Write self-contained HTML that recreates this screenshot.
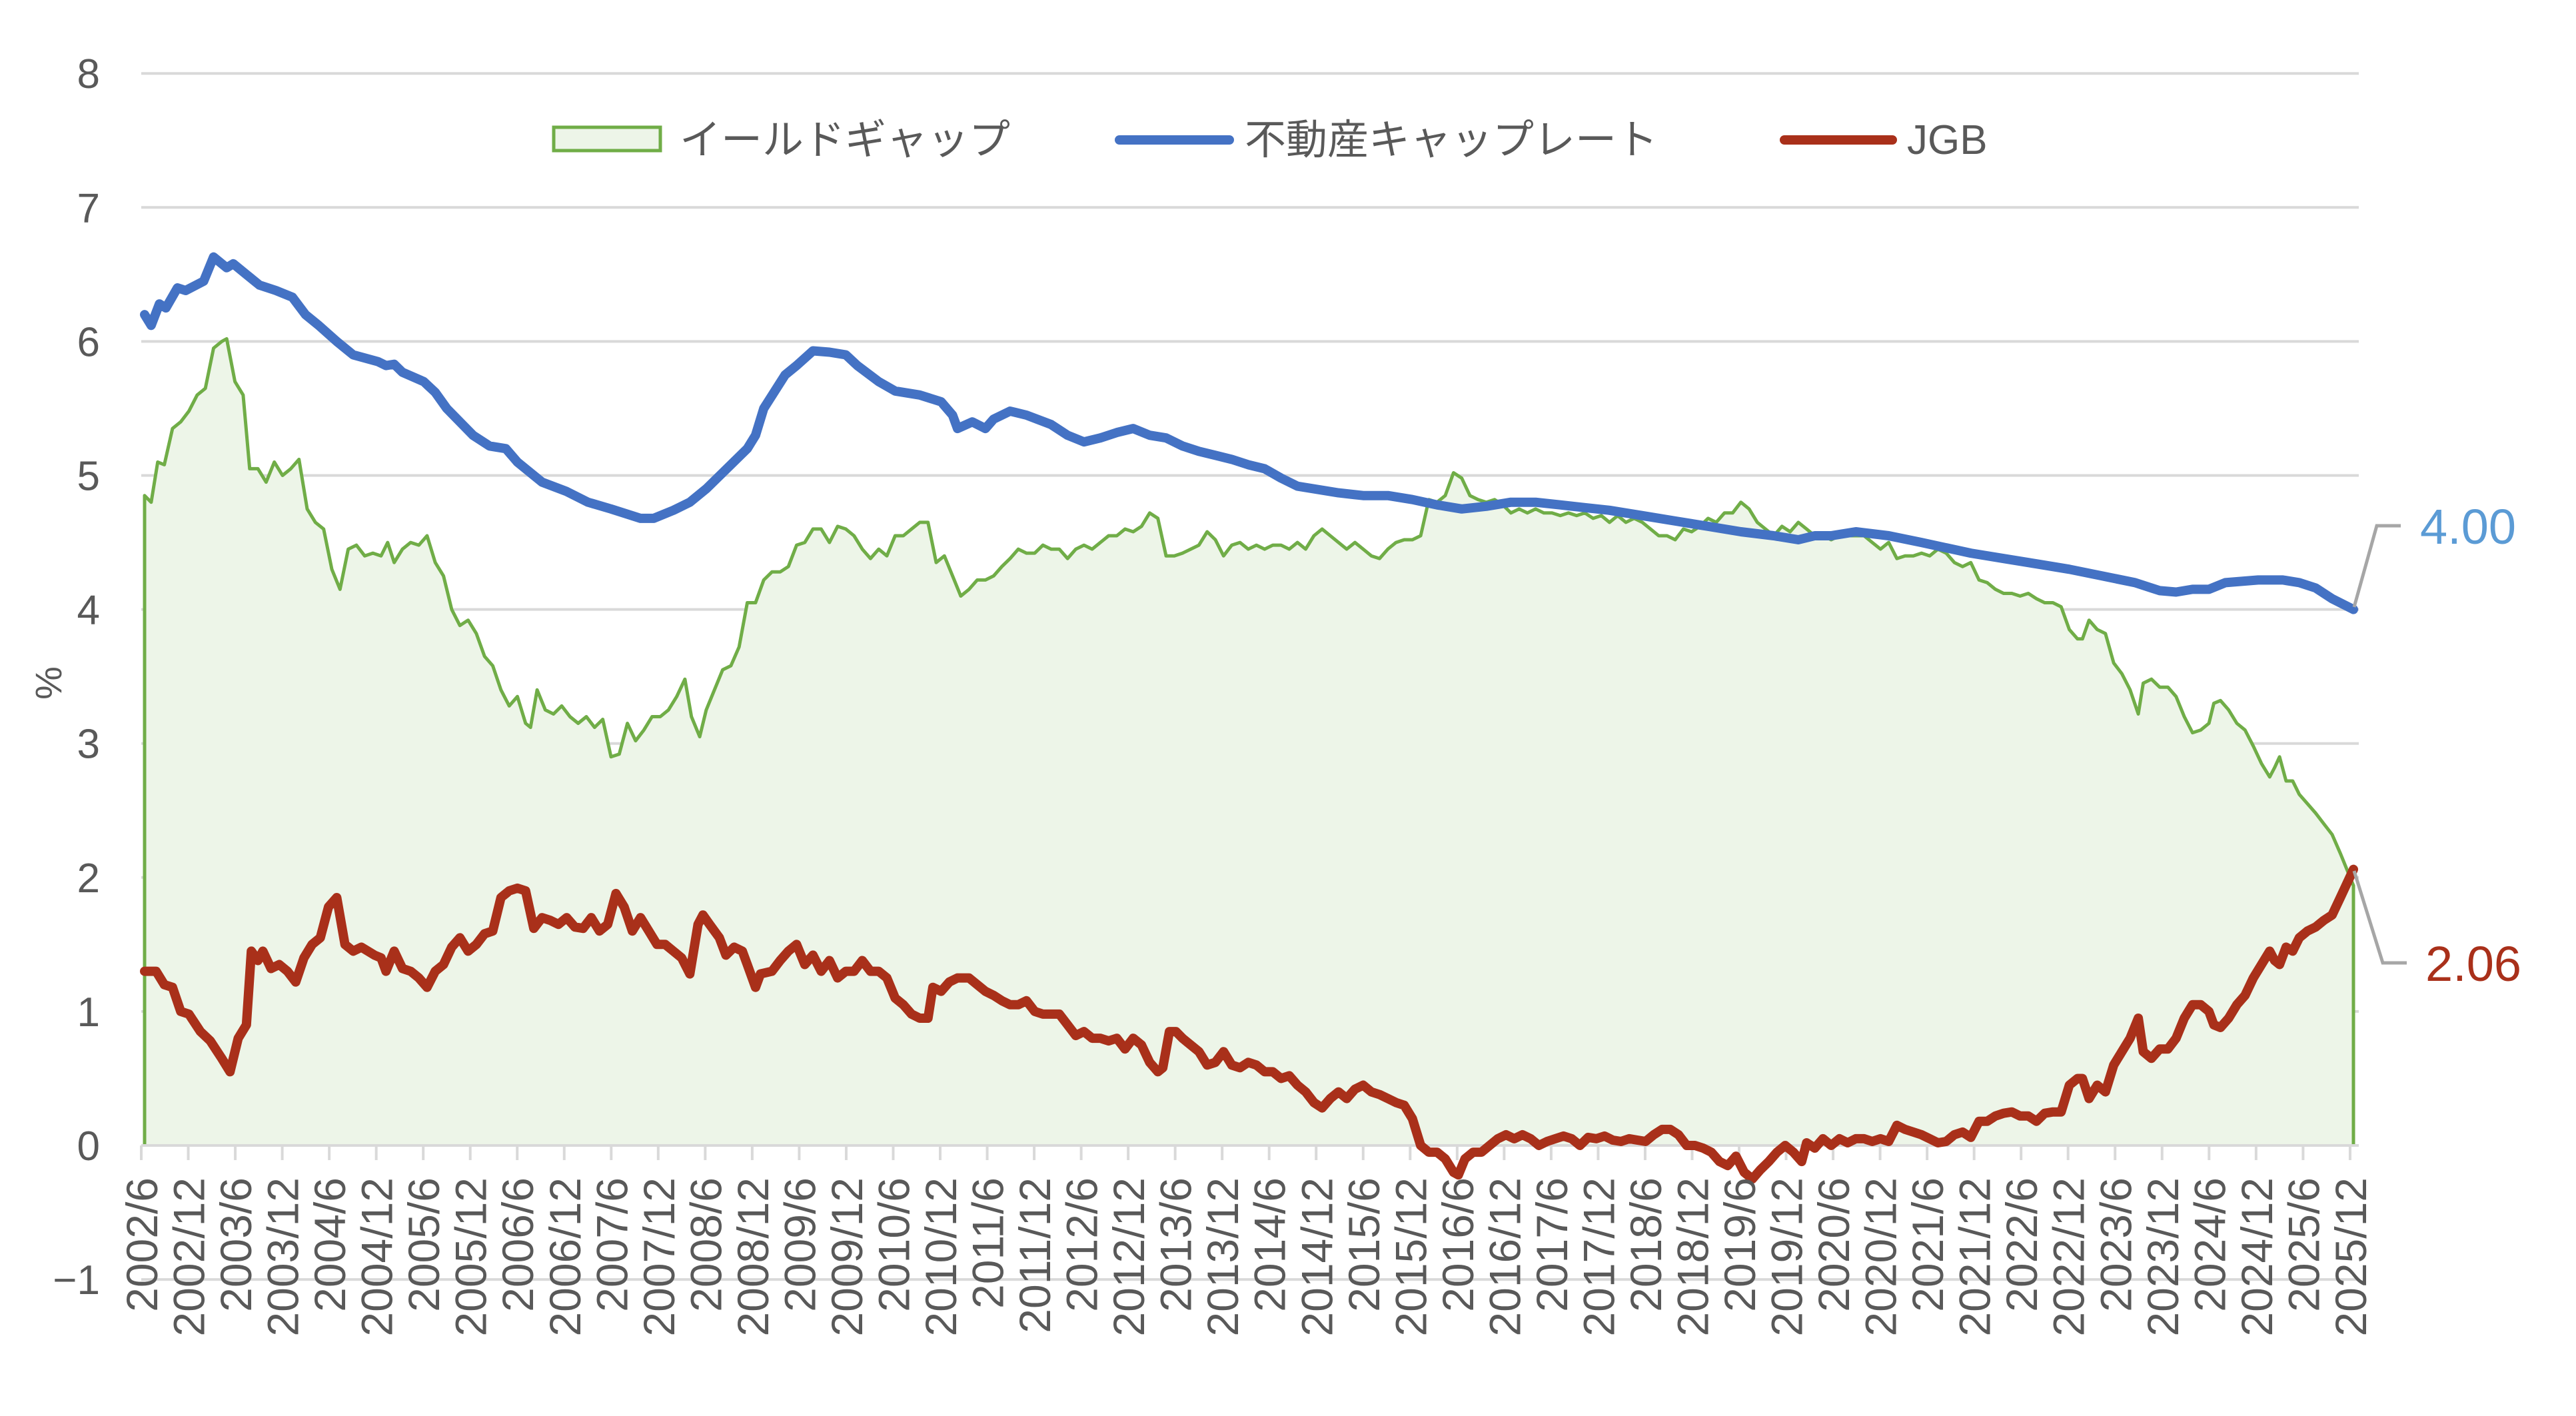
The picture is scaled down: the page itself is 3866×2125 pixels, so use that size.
<!DOCTYPE html>
<html><head><meta charset="utf-8"><style>
html,body{margin:0;padding:0;background:#fff;}
svg{display:block;font-family:"Liberation Sans","Noto Sans CJK JP",sans-serif;}
</style></head><body>
<svg id="c" width="3866" height="2125" viewBox="0 0 3866 2125" xmlns="http://www.w3.org/2000/svg">
<g id="grid" stroke="#D9D9D9" stroke-width="4"></g>
<path id="gap" fill="#EDF5E8" stroke="#70AD47" stroke-width="5" stroke-linejoin="round"/>
<g id="axis" stroke="#D9D9D9" stroke-width="4"></g>
<path id="cap" fill="none" stroke="#4472C4" stroke-width="14" stroke-linejoin="round" stroke-linecap="round"/>
<path id="jgb" fill="none" stroke="#A9301A" stroke-width="14" stroke-linejoin="round" stroke-linecap="round"/>
<g id="ylab" fill="#595959" font-size="62" text-anchor="end"></g>
<g id="xlab" fill="#595959" font-size="66" text-anchor="end"></g>
<text x="0" y="0" transform="translate(92,1025) rotate(-90)" font-size="56" fill="#595959" text-anchor="middle">%</text>
<rect x="831" y="191" width="160" height="35" fill="#EDF5E8" stroke="#70AD47" stroke-width="5"/>
<text x="1020" y="231" font-size="62" fill="#595959">イールドギャップ</text>
<line x1="1680" y1="210" x2="1845" y2="210" stroke="#4472C4" stroke-width="14" stroke-linecap="round"/>
<text x="1868" y="231" font-size="62" fill="#595959">不動産キャップレート</text>
<line x1="2678" y1="210" x2="2840" y2="210" stroke="#A9301A" stroke-width="14" stroke-linecap="round"/>
<text x="2862" y="231" font-size="62" fill="#595959">JGB</text>
<polyline points="3533,911 3567,789 3603,789" fill="none" stroke="#A6A6A6" stroke-width="5"/>
<polyline points="3533,1307 3576,1445 3612,1445" fill="none" stroke="#A6A6A6" stroke-width="5"/>
<text x="3632" y="816" font-size="74" fill="#5B9BD5">4.00</text>
<text x="3640" y="1472" font-size="74" fill="#A9301A">2.06</text>
</svg>
<script>
var NS="http://www.w3.org/2000/svg";
function X(xs){return 217+(xs-88)/1345*(3532-217);}
function Y(v){return 1719-201.1*v;}
function el(t,a,p,txt){var e=document.createElementNS(NS,t);for(var k in a)e.setAttribute(k,a[k]);if(txt!=null)e.textContent=txt;document.getElementById(p).appendChild(e);}
for(var v=-1;v<=8;v++){ if(v!==0) el("line",{x1:212,x2:3540,y1:Y(v),y2:Y(v)},"grid"); el("text",{x:150,y:Y(v)+22},"ylab",v<0?"\u22121":String(v));}
el("line",{x1:212,x2:3540,y1:1719,y2:1719},"axis");
for(var i=0;i<48;i++){var x=212+i*70.53;el("line",{x1:x,x2:x,y1:1719,y2:1741},"axis");
 var yr=2002+Math.floor((i+0)/2), lab=(i%2==0)?(yr+"/6"):(yr+"/12");
 el("text",{x:0,y:0,transform:"translate("+(x+24)+",1767) rotate(-90)"},"xlab",lab);}
function parse(s){return s.trim().split(/\s*,\s*/).map(function(p){var a=p.split(":");return [X(+a[0]),Y(+a[1])];});}
var cap=parse("88:6.2,92:6.12,97:6.28,101:6.25,108:6.4,113:6.38,124:6.45,130:6.63,138:6.55,142:6.58,150:6.5,158:6.42,168:6.38,172:6.36,178:6.33,186:6.2,194:6.12,205:6.0,215:5.9,230:5.85,235:5.82,240:5.83,245:5.77,258:5.7,265:5.62,272:5.5,288:5.3,298:5.22,308:5.2,315:5.1,330:4.95,345:4.88,358:4.8,372:4.75,390:4.68,398:4.68,410:4.74,420:4.8,430:4.9,445:5.08,455:5.2,460:5.3,465:5.5,478:5.75,485:5.82,495:5.93,505:5.92,515:5.9,522:5.82,535:5.7,545:5.63,560:5.6,573:5.55,580:5.45,583:5.35,592:5.4,600:5.35,605:5.42,615:5.48,625:5.45,640:5.38,650:5.3,660:5.25,670:5.28,680:5.32,690:5.35,700:5.3,710:5.28,720:5.22,730:5.18,740:5.15,750:5.12,760:5.08,770:5.05,780:4.98,790:4.92,800:4.9,815:4.87,830:4.85,845:4.85,860:4.82,875:4.78,890:4.75,905:4.77,920:4.8,935:4.8,950:4.78,965:4.76,980:4.74,1000:4.7,1020:4.66,1040:4.62,1060:4.58,1080:4.55,1095:4.52,1105:4.55,1115:4.55,1130:4.58,1150:4.55,1170:4.5,1185:4.46,1200:4.42,1220:4.38,1240:4.34,1260:4.3,1280:4.25,1300:4.2,1315:4.14,1325:4.13,1335:4.15,1345:4.15,1355:4.2,1365:4.21,1375:4.22,1390:4.22,1400:4.2,1410:4.16,1420:4.08,1433:4.0");
var jgb=parse("88:1.3,95:1.3,100:1.2,105:1.18,110:1.0,115:0.98,122:0.85,128:0.78,135:0.65,140:0.55,145:0.8,150:0.9,153:1.45,157:1.38,160:1.45,165:1.32,170:1.35,175:1.3,180:1.22,185:1.4,190:1.5,195:1.55,200:1.78,205:1.85,210:1.5,215:1.45,220:1.48,228:1.42,232:1.4,235:1.3,240:1.45,245:1.32,250:1.3,255:1.25,260:1.18,265:1.3,270:1.35,275:1.48,280:1.55,285:1.45,290:1.5,295:1.58,300:1.6,305:1.85,310:1.9,315:1.92,320:1.9,325:1.62,330:1.7,335:1.68,340:1.65,345:1.7,350:1.63,355:1.62,360:1.7,365:1.6,370:1.65,375:1.88,380:1.78,385:1.6,390:1.7,395:1.6,400:1.5,405:1.5,410:1.45,415:1.4,420:1.28,425:1.65,428:1.72,432:1.65,438:1.55,442:1.42,447:1.48,452:1.45,455:1.35,460:1.18,463:1.28,470:1.3,475:1.38,480:1.45,485:1.5,490:1.35,495:1.42,500:1.3,505:1.38,510:1.25,515:1.3,520:1.3,525:1.38,530:1.3,535:1.3,540:1.25,545:1.1,550:1.05,555:0.98,560:0.95,565:0.95,568:1.18,573:1.15,578:1.22,583:1.25,590:1.25,595:1.2,600:1.15,605:1.12,610:1.08,615:1.05,620:1.05,625:1.08,630:1.0,635:0.98,640:0.98,645:0.98,650:0.9,655:0.82,660:0.85,665:0.8,670:0.8,675:0.78,680:0.8,685:0.72,690:0.8,695:0.75,700:0.62,705:0.55,708:0.58,712:0.85,716:0.85,720:0.8,725:0.75,730:0.7,735:0.6,740:0.62,745:0.7,750:0.6,755:0.58,760:0.62,765:0.6,770:0.55,775:0.55,780:0.5,785:0.52,790:0.45,795:0.4,800:0.32,805:0.28,810:0.35,815:0.4,820:0.35,825:0.42,830:0.45,835:0.4,840:0.38,845:0.35,850:0.32,855:0.3,860:0.2,865:0.0,870:-0.05,875:-0.05,880:-0.1,885:-0.2,888:-0.22,892:-0.1,897:-0.05,902:-0.05,907:0.0,912:0.05,917:0.08,922:0.05,927:0.08,932:0.05,937:0.0,942:0.03,947:0.05,952:0.07,957:0.05,962:0.0,967:0.06,972:0.05,977:0.07,982:0.04,987:0.03,992:0.05,997:0.04,1002:0.03,1007:0.08,1012:0.12,1017:0.12,1022:0.08,1027:0.0,1032:0.0,1037:-0.02,1042:-0.05,1047:-0.12,1052:-0.15,1057:-0.08,1062:-0.2,1067:-0.25,1072:-0.18,1077:-0.12,1082:-0.05,1087:0.0,1092:-0.05,1097:-0.12,1100:0.02,1105:-0.02,1110:0.05,1115:0.0,1120:0.05,1125:0.02,1130:0.05,1135:0.05,1140:0.03,1145:0.05,1150:0.03,1155:0.15,1160:0.12,1165:0.1,1170:0.08,1175:0.05,1180:0.02,1185:0.03,1190:0.08,1195:0.1,1200:0.06,1205:0.18,1210:0.18,1215:0.22,1220:0.24,1225:0.25,1230:0.22,1235:0.22,1240:0.18,1245:0.24,1250:0.25,1255:0.25,1260:0.45,1265:0.5,1268:0.5,1272:0.35,1277:0.45,1282:0.4,1287:0.6,1292:0.7,1297:0.8,1302:0.95,1305:0.7,1310:0.65,1315:0.72,1320:0.72,1325:0.8,1330:0.95,1335:1.05,1340:1.05,1345:1.0,1348:0.9,1352:0.88,1357:0.95,1362:1.05,1367:1.12,1372:1.25,1377:1.35,1382:1.45,1385:1.38,1388:1.35,1392:1.48,1396:1.45,1400:1.55,1405:1.6,1410:1.63,1415:1.68,1420:1.72,1425:1.85,1433:2.06");
var gap=parse("88:4.85,92:4.8,96:5.1,100:5.08,105:5.35,110:5.4,115:5.48,120:5.6,125:5.65,130:5.95,135:6.0,138:6.02,143:5.7,148:5.6,152:5.05,157:5.05,162:4.95,167:5.1,172:5.0,177:5.05,182:5.12,187:4.75,192:4.65,197:4.6,202:4.3,207:4.15,212:4.45,217:4.48,222:4.4,227:4.42,232:4.4,236:4.5,240:4.35,245:4.45,250:4.5,255:4.48,260:4.55,265:4.35,270:4.25,275:4.0,280:3.88,285:3.92,290:3.82,295:3.65,300:3.58,305:3.4,310:3.28,315:3.35,320:3.15,323:3.12,327:3.4,332:3.25,337:3.22,342:3.28,347:3.2,352:3.15,357:3.2,362:3.12,367:3.18,372:2.9,377:2.92,382:3.15,387:3.02,392:3.1,397:3.2,402:3.2,407:3.25,412:3.35,417:3.48,421:3.2,426:3.05,430:3.25,435:3.4,440:3.55,445:3.58,450:3.72,455:4.05,460:4.05,465:4.22,470:4.28,475:4.28,480:4.32,485:4.48,490:4.5,495:4.6,500:4.6,505:4.5,510:4.62,515:4.6,520:4.55,525:4.45,530:4.38,535:4.45,540:4.4,545:4.55,550:4.55,555:4.6,560:4.65,565:4.65,570:4.35,575:4.4,580:4.25,585:4.1,590:4.15,595:4.22,600:4.22,605:4.25,610:4.32,615:4.38,620:4.45,625:4.42,630:4.42,635:4.48,640:4.45,645:4.45,650:4.38,655:4.45,660:4.48,665:4.45,670:4.5,675:4.55,680:4.55,685:4.6,690:4.58,695:4.62,700:4.72,705:4.68,710:4.4,715:4.4,720:4.42,725:4.45,730:4.48,735:4.58,740:4.52,745:4.4,750:4.48,755:4.5,760:4.45,765:4.48,770:4.45,775:4.48,780:4.48,785:4.45,790:4.5,795:4.45,800:4.55,805:4.6,810:4.55,815:4.5,820:4.45,825:4.5,830:4.45,835:4.4,840:4.38,845:4.45,850:4.5,855:4.52,860:4.52,865:4.55,870:4.82,875:4.8,880:4.85,885:5.02,890:4.98,895:4.85,900:4.82,905:4.8,910:4.82,915:4.78,920:4.72,925:4.75,930:4.72,935:4.75,940:4.72,945:4.72,950:4.7,955:4.72,960:4.7,965:4.72,970:4.68,975:4.7,980:4.65,985:4.7,990:4.65,995:4.68,1000:4.65,1005:4.6,1010:4.55,1015:4.55,1020:4.52,1025:4.6,1030:4.58,1035:4.62,1040:4.68,1045:4.65,1050:4.72,1055:4.72,1060:4.8,1065:4.75,1070:4.65,1075:4.6,1080:4.55,1085:4.62,1090:4.58,1095:4.65,1100:4.6,1105:4.55,1110:4.55,1115:4.52,1120:4.55,1125:4.55,1130:4.55,1135:4.55,1140:4.5,1145:4.45,1150:4.5,1155:4.38,1160:4.4,1165:4.4,1170:4.42,1175:4.4,1180:4.45,1185:4.42,1190:4.35,1195:4.32,1200:4.35,1205:4.22,1210:4.2,1215:4.15,1220:4.12,1225:4.12,1230:4.1,1235:4.12,1240:4.08,1245:4.05,1250:4.05,1255:4.02,1260:3.85,1265:3.78,1268:3.78,1272:3.92,1277:3.85,1282:3.82,1287:3.6,1292:3.52,1297:3.4,1302:3.22,1305:3.45,1310:3.48,1315:3.42,1320:3.42,1325:3.35,1330:3.2,1335:3.08,1340:3.1,1345:3.15,1348:3.3,1352:3.32,1357:3.25,1362:3.15,1367:3.1,1372:2.98,1377:2.85,1382:2.75,1385:2.82,1388:2.9,1392:2.72,1396:2.72,1400:2.62,1405:2.55,1410:2.48,1415:2.4,1420:2.32,1425:2.18,1433:1.94");
function d(p){return "M"+p.map(function(q){return q[0].toFixed(1)+","+q[1].toFixed(1);}).join(" L");}
document.getElementById("cap").setAttribute("d",d(cap));
document.getElementById("jgb").setAttribute("d",d(jgb));
var g=[[X(88),1719]].concat(gap).concat([[X(1433),1719]]);
document.getElementById("gap").setAttribute("d",d(g));
</script>
</body></html>
